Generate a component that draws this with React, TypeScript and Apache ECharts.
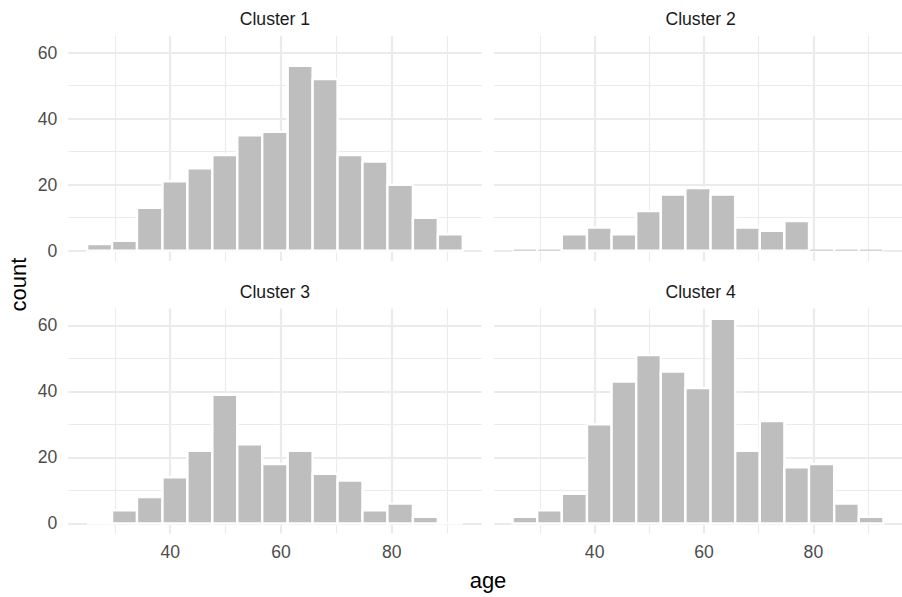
import React, { useEffect, useRef } from "react";
import * as echarts from "echarts";

// Histogram bin edges (age)
const binEdges = [25.0, 29.5, 34.0, 38.6, 43.1, 47.6, 52.1, 56.6, 61.2, 65.7, 70.2, 74.7, 79.2, 83.8, 88.3, 92.8];

// Counts per bin for each cluster
const cluster1 = [2, 3, 13, 21, 25, 29, 35, 36, 56, 52, 29, 27, 20, 10, 5];
const cluster2 = [0, 0, 5, 7, 5, 12, 17, 19, 17, 7, 6, 9, 0, 0, 0];
const cluster3 = [0, 4, 8, 14, 22, 39, 24, 18, 22, 15, 13, 4, 6, 2, 0];
const cluster4 = [2, 4, 9, 30, 43, 51, 46, 41, 62, 22, 31, 17, 18, 6, 2];

const panelTitles = ["Cluster 1", "Cluster 2", "Cluster 3", "Cluster 4"];

// Tick values
const xMajorTicks = [40, 60, 80];
const xMinorTicks = [30, 50, 70, 90];
const yMajorTicks = [0, 20, 40, 60];
const yMinorTicks = [10, 30, 50];

const X_MIN = 21.6;
const X_MAX = 96.2;
const Y_MIN = -3.1;
const Y_MAX = 65.1;

const FONT = "'Liberation Sans', Arial, Helvetica, sans-serif";
const GRID_COLOR = "#EBEBEB";

export default function App() {
  const ref = useRef<HTMLDivElement>(null);

  useEffect(() => {
    if (!ref.current) return;
    const chart = echarts.init(ref.current, null, { renderer: "svg" });

    const clusters = [cluster1, cluster2, cluster3, cluster4];
    const zeroMarks = [true, true, false, false];

    const W = 413.3;
    const H = 225;
    const lefts = [68.3, 494, 68.3, 494];
    const tops = [35.9, 35.9, 308.6, 308.6];

    const grids = clusters.map((_, i) => ({
      left: lefts[i],
      top: tops[i],
      width: W,
      height: H,
      containLabel: false,
    }));

    const xAxes: any[] = [];
    const yAxes: any[] = [];
    clusters.forEach((_, i) => {
      const bottomRow = i >= 2;
      const leftCol = i % 2 === 0;
      xAxes.push({
        type: "value",
        gridIndex: i,
        min: X_MIN,
        max: X_MAX,
        position: "bottom",
        axisLine: { show: false },
        axisTick: { show: false, customValues: xMajorTicks },
        axisLabel: {
          show: bottomRow,
          customValues: xMajorTicks,
          color: "#4D4D4D",
          fontSize: 17.6,
          fontFamily: FONT,
          margin: 9.5,
        },
        splitLine: { show: true, lineStyle: { color: GRID_COLOR, width: 2.2 } },
      });
      yAxes.push({
        type: "value",
        gridIndex: i,
        min: Y_MIN,
        max: Y_MAX,
        position: "left",
        axisLine: { show: false },
        axisTick: { show: false, customValues: yMajorTicks },
        axisLabel: {
          show: leftCol,
          customValues: yMajorTicks,
          color: "#4D4D4D",
          fontSize: 17.6,
          fontFamily: FONT,
          margin: 11,
        },
        splitLine: { show: true, lineStyle: { color: GRID_COLOR, width: 2.2 } },
      });
    });
    clusters.forEach((_, i) => {
      xAxes.push({
        type: "value",
        gridIndex: i,
        min: X_MIN,
        max: X_MAX,
        position: "top",
        axisLine: { show: false },
        axisTick: { show: false, customValues: xMinorTicks },
        axisLabel: { show: false, customValues: xMinorTicks },
        splitLine: { show: true, lineStyle: { color: GRID_COLOR, width: 1.1 } },
      });
      yAxes.push({
        type: "value",
        gridIndex: i,
        min: Y_MIN,
        max: Y_MAX,
        position: "right",
        axisLine: { show: false },
        axisTick: { show: false, customValues: yMinorTicks },
        axisLabel: { show: false, customValues: yMinorTicks },
        splitLine: { show: true, lineStyle: { color: GRID_COLOR, width: 1.1 } },
      });
    });

    const series = clusters.map((counts, i) => ({
      type: "custom",
      xAxisIndex: i,
      yAxisIndex: i,
      clip: false,
      z: 5,
      data: counts.map((c, k) => [binEdges[k], binEdges[k + 1], c]),
      renderItem: (params: any, api: any) => {
        const x0 = api.value(0);
        const x1 = api.value(1);
        const c = api.value(2);
        const pTop = api.coord([x0, c]);
        const pBot = api.coord([x1, 0]);
        const x = pTop[0];
        const w = pBot[0] - pTop[0];
        if (c === 0) {
          const children: any[] = [
            {
              type: "line",
              shape: { x1: x, y1: pBot[1], x2: x + w, y2: pBot[1] },
              style: { stroke: "#FFFFFF", lineWidth: 2.4 },
            },
          ];
          if (zeroMarks[i]) {
            children.push({
              type: "line",
              shape: { x1: x + 1.2, y1: pBot[1] - 0.5, x2: x + w - 1.2, y2: pBot[1] - 0.5 },
              style: { stroke: "#C4C4C4", lineWidth: 1.1 },
            });
          }
          return { type: "group", children };
        }
        return {
          type: "rect",
          shape: { x, y: pTop[1], width: w, height: pBot[1] - pTop[1] },
          style: { fill: "#BEBEBE", stroke: "#FFFFFF", lineWidth: 2.4 },
        };
      },
    }));

    const graphics: any[] = panelTitles.map((t, i) => ({
      type: "text",
      x: lefts[i] + W / 2,
      y: tops[i] - 16.5,
      style: {
        text: t,
        fill: "#1A1A1A",
        font: `17.6px ${FONT}`,
        textAlign: "center",
        textVerticalAlign: "middle",
      },
    }));
    graphics.push({
      type: "text",
      x: 488,
      y: 580,
      style: {
        text: "age",
        fill: "#000000",
        font: `22px ${FONT}`,
        textAlign: "center",
        textVerticalAlign: "middle",
      },
    });
    graphics.push({
      type: "text",
      x: 18.5,
      y: 284.5,
      rotation: Math.PI / 2,
      style: {
        text: "count",
        fill: "#000000",
        font: `22px ${FONT}`,
        textAlign: "center",
        textVerticalAlign: "middle",
      },
    });

    chart.setOption({
      animation: false,
      backgroundColor: "#FFFFFF",
      grid: grids,
      xAxis: xAxes,
      yAxis: yAxes,
      series,
      graphic: graphics,
    });

    return () => chart.dispose();
  }, []);

  return (
    <div
      ref={ref}
      style={{ position: "absolute", left: 0, top: 0, width: 902, height: 597 }}
    />
  );
}
